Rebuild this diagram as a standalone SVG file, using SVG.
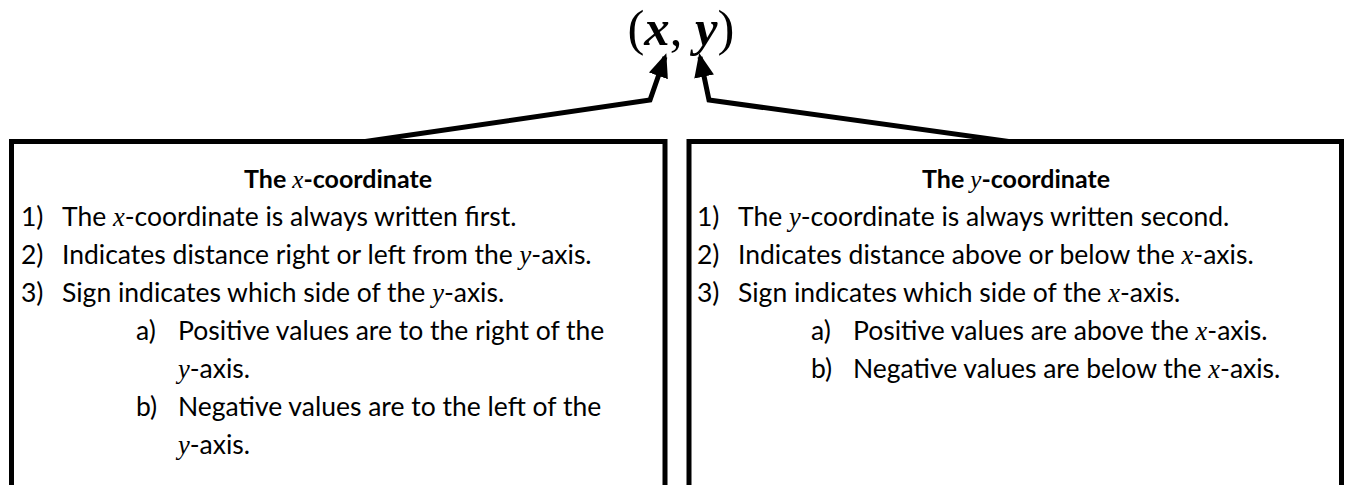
<svg xmlns="http://www.w3.org/2000/svg" width="1348" height="485" viewBox="0 0 1348 485">
<style>
.box{fill:#fff;stroke:#000;stroke-width:5}
.t{font-family:Lato,"Open Sans","Liberation Sans",sans-serif;font-size:26.5px;fill:#000}
.h{font-weight:bold;font-size:25px}
.m{font-family:"Liberation Serif",serif;font-style:italic}
.conn{fill:none;stroke:#000;stroke-width:5;stroke-linejoin:miter}
.title{font-family:"Liberation Serif",serif;font-size:50px;fill:#000}
</style>
<defs>
<marker id="ah" markerUnits="userSpaceOnUse" markerWidth="26" markerHeight="22" refX="20" refY="10" orient="auto" viewBox="0 0 26 20">
<path d="M0,0 L24,10 L0,20 Z" fill="#000"/>
</marker>
</defs>
<g id="title">
<text class="title" x="681" y="45" text-anchor="middle" textLength="107" lengthAdjust="spacingAndGlyphs">(<tspan font-weight="bold" font-style="italic">x</tspan>, <tspan font-weight="bold" font-style="italic">y</tspan>)</text>
</g>
<g id="connectors">
<path class="conn" d="M355,143 L650,100 L665,57" marker-end="url(#ah)"/>
<path class="conn" d="M1020,143 L709,100 L700,57" marker-end="url(#ah)"/>
</g>
<g id="x-box">
<rect class="box" x="11.5" y="141.5" width="653.5" height="360"/>
<text class="t h" x="338" y="188" text-anchor="middle">The <tspan class="m" font-weight="normal">x</tspan>-coordinate</text>
<text class="t" x="21" y="226">1)</text>
<text class="t" x="62" y="226">The <tspan class="m">x</tspan>-coordinate is always written first.</text>
<text class="t" x="21" y="264">2)</text>
<text class="t" x="62" y="264">Indicates distance right or left from the <tspan class="m">y</tspan>-axis.</text>
<text class="t" x="21" y="302">3)</text>
<text class="t" x="62" y="302">Sign indicates which side of the <tspan class="m">y</tspan>-axis.</text>
<text class="t" x="136" y="340">a)</text>
<text class="t" x="178" y="340">Positive values are to the right of the</text>
<text class="t" x="178" y="378"><tspan class="m">y</tspan>-axis.</text>
<text class="t" x="136" y="416">b)</text>
<text class="t" x="178" y="416">Negative values are to the left of the</text>
<text class="t" x="178" y="454"><tspan class="m">y</tspan>-axis.</text>
</g>
<g id="y-box">
<rect class="box" x="689" y="141.5" width="652.5" height="360"/>
<text class="t h" x="1016" y="188" text-anchor="middle">The <tspan class="m" font-weight="normal">y</tspan>-coordinate</text>
<text class="t" x="697" y="226">1)</text>
<text class="t" x="738" y="226">The <tspan class="m">y</tspan>-coordinate is always written second.</text>
<text class="t" x="697" y="264">2)</text>
<text class="t" x="738" y="264">Indicates distance above or below the <tspan class="m">x</tspan>-axis.</text>
<text class="t" x="697" y="302">3)</text>
<text class="t" x="738" y="302">Sign indicates which side of the <tspan class="m">x</tspan>-axis.</text>
<text class="t" x="811" y="340">a)</text>
<text class="t" x="853" y="340">Positive values are above the <tspan class="m">x</tspan>-axis.</text>
<text class="t" x="811" y="378">b)</text>
<text class="t" x="853" y="378">Negative values are below the <tspan class="m">x</tspan>-axis.</text>
</g>
</svg>
